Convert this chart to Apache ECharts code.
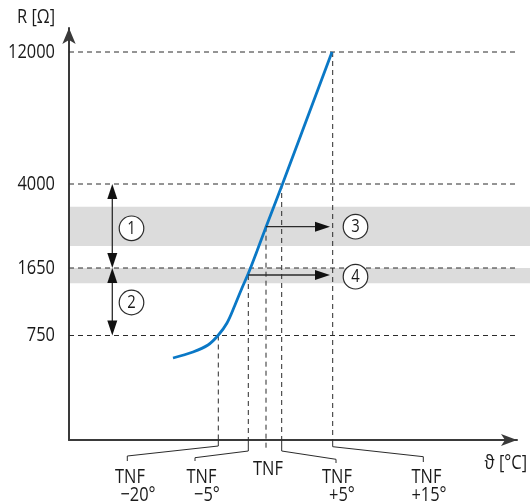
<!DOCTYPE html>
<html><head><meta charset="utf-8">
<script src="https://cdn.jsdelivr.net/npm/echarts@6/dist/echarts.min.js"></script>
<style>html,body{margin:0;padding:0;background:#fff}#c{width:530px;height:504px}</style>
</head><body><div id="c"></div>
<script>
// ---------- data (schematic diagram: the original has no numeric scale, values are diagram units) ----------
const resistanceLabels = ['750', '1650', '4000', '12000'];
const resistanceLevels = [104.5, 172, 256, 388];
const tempTopLabels = ['TNF', 'TNF', 'TNF', 'TNF', 'TNF'];
const tempBottomLabels = ['−20°', '−5°', '', '+5°', '+15°'];
const tempPositions = [149.3, 179.3, 197, 212.7, 263.7];
const curveTemp = [104, 124, 139, 149, 158, 166, 173, 179.5, 188, 197, 213.5, 263];
const curveRes  = [82, 88, 95, 104.5, 117, 135, 152, 167, 189, 213, 256, 388];
const bandLow  = [194, 156.7];
const bandHigh = [233.3, 172];
const markerLabels = ['1', '2', '3', '4'];
const yAxisName = 'R [Ω]';
const xAxisName = 'ϑ [°C]';

// ---------- annotation geometry (diagram units) ----------
const X_RIGHT = 461;
const dropTop = [104.5, 165, 213.3, 256, 388];
const dropBottom = [0, 0, -9, 0, 0];
const leaders = [
  [[149.3, 0], [149.3, -6], [58.3, -16], [58.3, -21]],
  [[179.3, 0], [179.3, -11], [126, -17.7], [126, -21]],
  [[212.7, 0], [212.7, -11], [267, -19.3], [267, -23]],
  [[263.7, 0], [263.7, -6.7], [354.3, -16.7], [354.3, -22]]
];
const labelTopPos = [[61, -37.5], [132.5, -37.5], [199, -29.5], [268, -37.5], [357.5, -37.5]];
const labelBottomPos = [[69, -55], [138, -55], [199, -55], [273, -55], [360, -55]];
const markerPos = [[62.5, 211.7], [62.5, 137.5], [286.5, 213.3], [286.5, 163.3]];
const Y_LABEL_X = -14;
const yNamePos = [-14, 423];
const xNamePos = [458, -23];
// [x1, y1, x2, y2, headAtStart, headAtEnd]
const arrows = [
  [43.3, 256, 43.3, 172, 1, 1],
  [43.3, 172, 43.3, 104.5, 1, 1],
  [197, 213.3, 261, 213.3, 0, 1],
  [179.3, 165, 261, 165, 0, 1]
];

const FONT = "'Open Sans', 'Liberation Sans', sans-serif";
const SX = 0.82;             // horizontal squeeze to mimic the condensed typeface
const INK = '#2b2b2b';
const TXT = '#1a1a1a';
const AXIS = '#3a3a3a';
const DASH = [5, 4];

const series = [];

// gray bands
series.push({
  type: 'custom', silent: true, z: 1, clip: false,
  data: bandLow.map((lo, i) => [1, lo, X_RIGHT, bandHigh[i]]),
  encode: { x: [0, 2], y: [1, 3] },
  renderItem: (p, api) => {
    const a = api.coord([api.value(0), api.value(3)]);
    const b = api.coord([api.value(2), api.value(1)]);
    return { type: 'rect', shape: { x: a[0], y: a[1], width: b[0] - a[0], height: b[1] - a[1] }, style: { fill: '#dcdcdc' } };
  }
});

// horizontal dashed reference lines
resistanceLevels.forEach(v => series.push({
  type: 'line', silent: true, clip: false, z: 2, symbol: 'none',
  data: [[0, v], [X_RIGHT, v]],
  lineStyle: { type: DASH, width: 1, color: INK }
}));

// vertical dashed drop lines
tempPositions.forEach((t, i) => series.push({
  type: 'line', silent: true, clip: false, z: 2, symbol: 'none',
  data: [[t, dropTop[i]], [t, dropBottom[i]]],
  lineStyle: { type: DASH, width: 1, color: INK }
}));

// leader lines under the axis
leaders.forEach(pts => series.push({
  type: 'line', silent: true, clip: false, z: 2, symbol: 'none',
  data: pts,
  lineStyle: { type: 'solid', width: 1, color: INK }
}));

// characteristic curve
series.push({
  type: 'line', silent: true, z: 5, symbol: 'none', smooth: 0.35, clip: false,
  data: curveTemp.map((t, i) => [t, curveRes[i]]),
  lineStyle: { color: '#0a78c6', width: 2.8 }
});

// arrows
series.push({
  type: 'custom', silent: true, z: 6, clip: false,
  data: arrows,
  encode: { x: [0, 2], y: [1, 3] },
  renderItem: (p, api) => {
    const p1 = api.coord([api.value(0), api.value(1)]);
    const p2 = api.coord([api.value(2), api.value(3)]);
    const h1 = api.value(4), h2 = api.value(5);
    const dx = p2[0] - p1[0], dy = p2[1] - p1[1];
    const len = Math.sqrt(dx * dx + dy * dy);
    const ux = dx / len, uy = dy / len, nx = -uy, ny = ux;
    const HL = 15, HW = 5;
    const children = [];
    const s = h1 ? [p1[0] + ux * HL * 0.8, p1[1] + uy * HL * 0.8] : p1;
    const e = h2 ? [p2[0] - ux * HL * 0.8, p2[1] - uy * HL * 0.8] : p2;
    children.push({ type: 'line', shape: { x1: s[0], y1: s[1], x2: e[0], y2: e[1] }, style: { stroke: INK, lineWidth: 1.3 } });
    const head = (tip, dirx, diry) => ({
      type: 'polygon',
      shape: { points: [tip, [tip[0] - dirx * HL + nx * HW, tip[1] - diry * HL + ny * HW], [tip[0] - dirx * HL - nx * HW, tip[1] - diry * HL - ny * HW]] },
      style: { fill: '#111' }
    });
    if (h1) children.push(head(p1, -ux, -uy));
    if (h2) children.push(head(p2, ux, uy));
    return { type: 'group', children };
  }
});

// circled numbers
series.push({
  type: 'custom', silent: true, z: 7, clip: false,
  data: markerPos.map((p, i) => [p[0], p[1], i]),
  encode: { x: 0, y: 1 },
  renderItem: (p, api) => {
    const c = api.coord([api.value(0), api.value(1)]);
    const i = api.value(2);
    return { type: 'group', children: [
      { type: 'circle', shape: { cx: c[0], cy: c[1], r: 12.3 }, style: { fill: '#fff', stroke: INK, lineWidth: 1.2 } },
      { type: 'text', x: c[0], y: c[1] + 0.5, scaleX: SX, style: { text: markerLabels[i], fontSize: 18, fontFamily: FONT, fill: TXT, align: 'center', verticalAlign: 'middle' } }
    ] };
  }
});

// text helper: items of [x, y, textIndex]
function textSeries(texts, pos, align) {
  return {
    type: 'custom', silent: true, z: 7, clip: false,
    data: pos.map((p, i) => [p[0], p[1], i]),
    encode: { x: 0, y: 1 },
    renderItem: (prm, api) => {
      const c = api.coord([api.value(0), api.value(1)]);
      return { type: 'text', x: c[0], y: c[1], scaleX: SX,
        style: { text: texts[api.value(2)], fontSize: 20, fontFamily: FONT, fill: TXT, align: align, verticalAlign: 'middle' } };
    }
  };
}
// temperature tick labels
series.push(textSeries(tempTopLabels, labelTopPos, 'center'));
series.push(textSeries(tempBottomLabels, labelBottomPos, 'center'));
// resistance tick labels
series.push(textSeries(resistanceLabels, resistanceLevels.map(v => [Y_LABEL_X, v]), 'right'));
// axis names
series.push(textSeries([yAxisName, xAxisName], [yNamePos, xNamePos], 'right'));

const chart = echarts.init(document.getElementById('c'), null, { renderer: 'canvas' });
chart.setOption({
  animation: false,
  backgroundColor: '#fff',
  grid: { left: 69, top: 28, width: 448, height: 412, containLabel: false, outerBoundsMode: 'none' },
  xAxis: {
    type: 'value', min: 0, max: 448,
    axisLine: { show: true, symbol: ['none', 'arrow'], symbolSize: [9, 16], lineStyle: { color: AXIS, width: 2 } },
    axisTick: { show: false }, axisLabel: { show: false }, splitLine: { show: false }
  },
  yAxis: {
    type: 'value', min: 0, max: 412,
    axisLine: { show: true, symbol: ['none', 'arrow'], symbolSize: [10, 16], lineStyle: { color: AXIS, width: 2 } },
    axisTick: { show: false }, axisLabel: { show: false }, splitLine: { show: false }
  },
  series
});
</script></body></html>
